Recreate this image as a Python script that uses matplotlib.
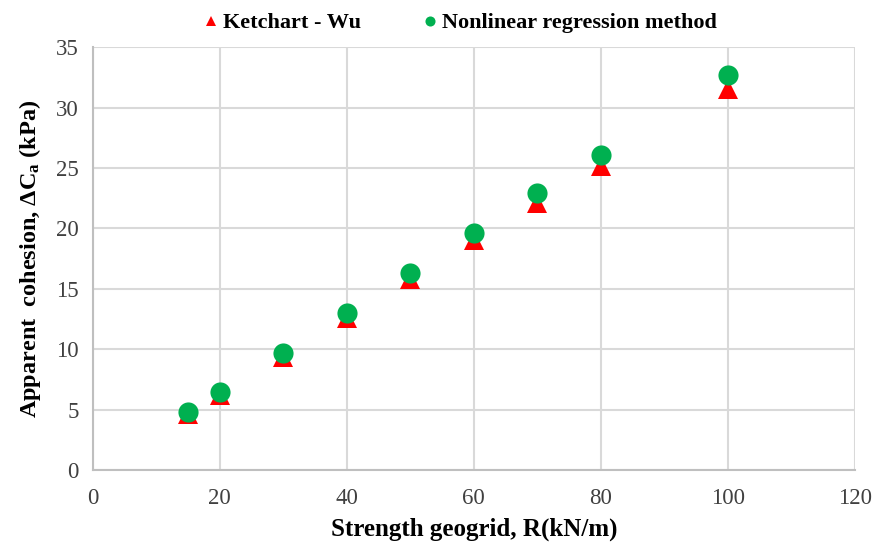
import matplotlib.pyplot as plt

strength = [15, 20, 30, 40, 50, 60, 70, 80, 100]
ketchart_wu = [4.65, 6.2, 9.35, 12.55, 15.8, 19.0, 22.1, 25.2, 31.5]
nonlinear = [4.82, 6.45, 9.7, 13.0, 16.3, 19.6, 22.9, 26.1, 32.7]

plt.rcParams['font.family'] = ['Liberation Serif', 'DejaVu Serif']
plt.rcParams['mathtext.fontset'] = 'custom'
plt.rcParams['mathtext.rm'] = 'Liberation Serif'
plt.rcParams['mathtext.bf'] = 'Liberation Serif:bold'
plt.rcParams['mathtext.it'] = 'Liberation Serif:italic'

fig = plt.figure(figsize=(8.77, 5.42), dpi=100)
ax = fig.add_axes([0.1056, 0.133, 0.8694, 0.78])

ax.plot(strength, ketchart_wu, '^', color='#ff0000', ms=15, mew=0,
        label='Ketchart - Wu', zorder=3)
ax.plot(strength, nonlinear, 'o', color='#00b050', ms=14.5, mew=0,
        label='Nonlinear regression method', zorder=4)

ax.set_xlim(0, 120)
ax.set_ylim(0, 35)
ax.set_xticks(range(0, 121, 20))
ax.set_yticks(range(0, 36, 5))
ax.grid(True, color='#d9d9d9', lw=1.5)
ax.set_axisbelow(True)
for s in ['top', 'right']:
    ax.spines[s].set_visible(False)
for s in ['left', 'bottom']:
    ax.spines[s].set_color('#bfbfbf')
    ax.spines[s].set_linewidth(1.5)
ax.tick_params(length=0, labelsize=16.5, colors='#404040')
ax.tick_params(axis='x', pad=13)
ax.tick_params(axis='y', pad=10)

ax.set_xlabel('Strength geogrid, R(kN/m)', fontsize=18, fontweight='bold', labelpad=6)
ax.set_ylabel('Apparent  cohesion, $\\mathbf{\\Delta C_a}$ (kPa)', fontsize=17.5,
              fontweight='bold', labelpad=9)

ax.legend(loc='lower center', bbox_to_anchor=(0.48, 0.985), ncol=2, frameon=False,
          prop={'weight': 'bold', 'size': 16}, markerscale=0.5,
          handletextpad=0.05, columnspacing=2.6, handlelength=1)

fig.savefig('out.png', dpi=100)
